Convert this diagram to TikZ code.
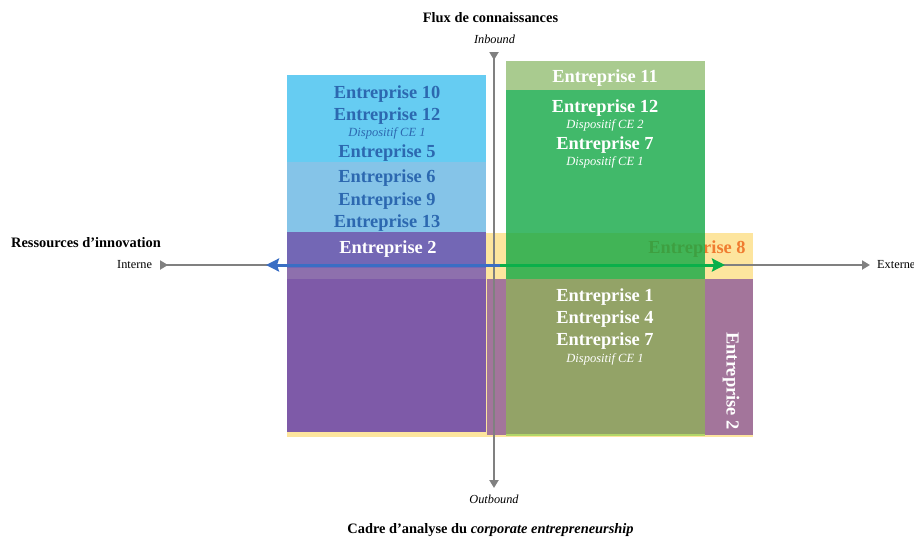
\documentclass[tikz,border=0pt]{standalone}
\usepackage{fontspec}
\setmainfont{Liberation Serif}
\usetikzlibrary{arrows.meta}
\definecolor{cielclair}{RGB}{102,204,242}
\definecolor{bleuclair}{RGB}{133,196,232}
\definecolor{bleutexte}{RGB}{44,104,176}
\definecolor{violethaut}{RGB}{115,103,181}
\definecolor{violetmilieu}{RGB}{142,112,173}
\definecolor{violetbas}{RGB}{126,90,168}
\definecolor{jaune}{RGB}{253,229,158}
\definecolor{mauve}{RGB}{163,117,155}
\definecolor{kaki}{RGB}{147,163,103}
\definecolor{lisere}{RGB}{178,214,104}
\definecolor{vertclair}{RGB}{169,203,143}
\definecolor{vertfonce}{RGB}{18,168,69}
\definecolor{orangetexte}{RGB}{240,124,48}
\definecolor{axegris}{RGB}{128,128,128}
\definecolor{flechebleue}{RGB}{58,110,196}
\definecolor{flecheverte}{RGB}{10,176,74}

\begin{document}
\begin{tikzpicture}[x=1pt,y=-1pt,
  ent/.style={font=\bfseries\fontsize{18.4}{22}\selectfont,anchor=base,inner sep=0pt},
  disp/.style={font=\itshape\fontsize{12.5}{15}\selectfont,anchor=base,inner sep=0pt},
  titre/.style={font=\bfseries\fontsize{14.4}{17}\selectfont,anchor=base,inner sep=0pt},
  pole/.style={font=\fontsize{12.3}{15}\selectfont,anchor=base,inner sep=0pt},
  polei/.style={pole,font=\itshape\fontsize{12.3}{15}\selectfont},
  axe/.style={draw=axegris,line width=2pt,{Triangle[reversed,length=8pt,width=9pt]}-{Triangle[length=8pt,width=9pt]}},
  fleche/.style={line width=3pt,-{Stealth[length=13pt,width=13pt,inset=2pt]}}]
  \useasboundingbox (0,0) rectangle (914,539);
  % zones du cadre
  \fill[jaune] (287,233) rectangle (753,437);
  \fill[mauve] (487,279) rectangle (753,435);
  \node[ent,text=orangetexte] (e8) at (697,253) {Entreprise 8};
  \fill[cielclair] (287,75) rectangle (486,162);
  \fill[bleuclair] (287,162) rectangle (486,232);
  \fill[violethaut] (287,232) rectangle (486,268);
  \fill[violetmilieu] (287,268) rectangle (486,279);
  \fill[violetbas] (287,279) rectangle (486,432);
  \fill[kaki] (506,279) rectangle (705,434);
  \fill[lisere] (506,434) rectangle (705,436);
  \fill[vertfonce,fill opacity=0.8] (506,90) rectangle (705,279);
  \fill[vertclair] (506,61) rectangle (705,90);
  % inbound / interne
  \node[ent,text=bleutexte] (e10) at (387,98) {Entreprise 10};
  \node[ent,text=bleutexte] (e12a) at (387,120) {Entreprise 12};
  \node[disp,text=bleutexte] (d1a) at (387,136) {Dispositif CE 1};
  \node[ent,text=bleutexte] (e5) at (387,157) {Entreprise 5};
  \node[ent,text=bleutexte] (e6) at (387,182) {Entreprise 6};
  \node[ent,text=bleutexte] (e9) at (387,205) {Entreprise 9};
  \node[ent,text=bleutexte] (e13) at (387,227) {Entreprise 13};
  \node[ent,text=white] (e2a) at (388,253) {Entreprise 2};
  % inbound / externe
  \node[ent,text=white] (e11) at (605,82) {Entreprise 11};
  \node[ent,text=white] (e12b) at (605,112) {Entreprise 12};
  \node[disp,text=white] (d2) at (605,128) {Dispositif CE 2};
  \node[ent,text=white] (e7a) at (605,149) {Entreprise 7};
  \node[disp,text=white] (d1b) at (605,165) {Dispositif CE 1};
  % outbound / externe
  \node[ent,text=white] (e1) at (605,301) {Entreprise 1};
  \node[ent,text=white] (e4) at (605,323) {Entreprise 4};
  \node[ent,text=white] (e7b) at (605,345) {Entreprise 7};
  \node[disp,text=white] (d1c) at (605,362) {Dispositif CE 1};
  \node[ent,text=white,anchor=center,rotate=-90] (e2b) at (731,381) {Entreprise 2};
  % axes
  \node[titre] (flux) at (490.5,22) {Flux de connaissances};
  \node[polei] (inb) at (494.5,43) {Inbound};
  \node[polei] (outb) at (494,503) {Outbound};
  \node[titre] (ress) at (86,247) {Ressources d’innovation};
  \node[pole,anchor=base west] (int) at (117,268) {Interne};
  \node[pole,anchor=base west] (ext) at (877,268) {Externe};
  \node[titre] (cadre) at (490.5,533) {Cadre d’analyse du \textit{corporate entrepreneurship}};
  \coordinate (haut) at (494,52);
  \coordinate (bas) at (494,488);
  \coordinate (gauche) at (160,265);
  \coordinate (droite) at (870,265);
  \draw[axe] (haut) -- (bas);
  \draw[axe] (gauche) -- (droite);
  \coordinate (pivot) at (500,265);
  \coordinate (pointeb) at (266,265);
  \coordinate (pointev) at (725,265);
  \draw[fleche,flechebleue] (pivot) -- (pointeb);
  \draw[fleche,flecheverte] (pivot) -- (pointev);
\end{tikzpicture}
\end{document}
